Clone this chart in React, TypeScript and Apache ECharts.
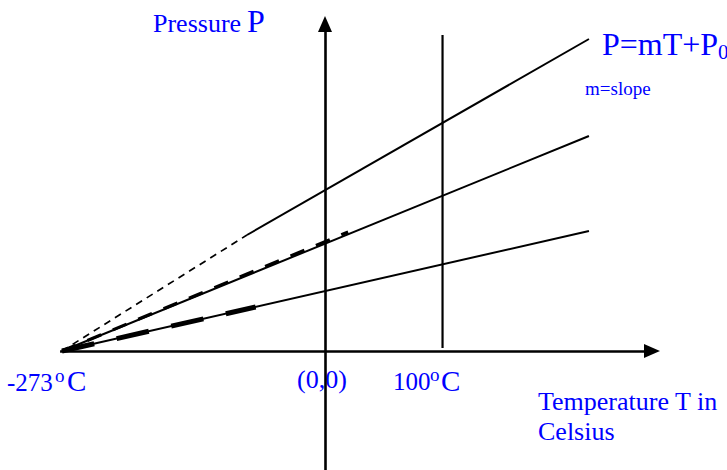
import React, { useEffect, useRef } from "react";
import * as echarts from "echarts";

// Coordinate frame: T in degrees Celsius (schematic), P in arbitrary units
const X_MIN = -337.36;
const X_MAX = 417.28;
const Y_MIN = -119;
const Y_MAX = 351;

const line1Dashed = [[-273, 0], [-81, 116]];
const line1Solid = [[-81, 116], [274, 312]];
const line2Solid = [[-273, 0], [274, 215]];
const line2Extrap = [[-273, 0], [24, 119]];
const line3Solid = [[-273, 0], [274, 120]];
const line3Extrap = [[-273, 0], [-72, 44]];
const boilingMarker = [[122, 3], [122, 316]];
const xAxisEnds = [[-275, 0], [339.4, 0]];
const yAxisEnds = [[0, -119], [0, 327]];

const FONT = "'Liberation Serif', 'Times New Roman', serif";
const BLUE = "#0000ff";

function txt(x: number, baseline: number, text: string, fs: number) {
  return {
    type: "text",
    x,
    y: baseline - 0.3375 * fs,
    silent: true,
    style: {
      text,
      fontSize: fs,
      fontFamily: FONT,
      fill: BLUE,
      align: "left",
      verticalAlign: "middle",
    },
  };
}

function lineSeries(data: number[][], width: number, type: any, z = 2) {
  return {
    type: "line",
    data,
    symbol: "none",
    silent: true,
    z,
    lineStyle: { color: "#000", width, type, cap: "butt" },
    emphasis: { disabled: true },
  };
}

export default function App() {
  const ref = useRef<HTMLDivElement>(null);
  useEffect(() => {
    if (!ref.current) return;
    const chart = echarts.init(ref.current, null, { renderer: "svg" });
    chart.setOption({
      animation: false,
      backgroundColor: "#ffffff",
      grid: { left: 0, right: 0, top: 0, bottom: 0 },
      xAxis: { type: "value", min: X_MIN, max: X_MAX, show: false },
      yAxis: { type: "value", min: Y_MIN, max: Y_MAX, show: false },
      series: [
        {
          type: "line",
          data: [],
          symbol: "none",
          silent: true,
          markLine: {
            silent: true,
            animation: false,
            symbol: ["none", "triangle"],
            symbolSize: [14, 16],
            label: { show: false },
            emphasis: { disabled: true },
            lineStyle: { color: "#000", width: 2.6, type: "solid" },
            data: [
              [{ coord: xAxisEnds[0] }, { coord: xAxisEnds[1] }],
              [{ coord: yAxisEnds[0] }, { coord: yAxisEnds[1] }],
            ],
          },
        },
        lineSeries(boilingMarker, 2.2, "solid"),
        lineSeries(line1Dashed, 1.7, [7, 5.5]),
        lineSeries(line1Solid, 2, "solid"),
        lineSeries(line2Solid, 2, "solid"),
        lineSeries(line2Extrap, 3.2, [15, 12.5], 3),
        lineSeries(line3Solid, 2, "solid"),
        lineSeries(line3Extrap, 5, [33, 23], 3),
      ],
      graphic: [
        txt(153, 32, "Pressure", 26),
        txt(247, 32, "P", 32),
        txt(602, 55, "P=mT+P", 32),
        txt(718, 59, "0", 21),
        txt(585, 95, "m=slope", 19),
        txt(7, 391, "-273", 25),
        txt(55, 382, "o", 19),
        txt(67, 391, "C", 29),
        txt(297, 388, "(0,0)", 26),
        txt(393, 390, "100", 25),
        txt(430, 381, "o", 19),
        txt(441, 391, "C", 29),
        txt(538, 410, "Temperature T in", 26),
        txt(538, 440, "Celsius", 26),
      ],
    });
    return () => chart.dispose();
  }, []);
  return (
    <div
      ref={ref}
      style={{ position: "fixed", left: 0, top: 0, width: 727, height: 470, background: "#fff" }}
    />
  );
}
